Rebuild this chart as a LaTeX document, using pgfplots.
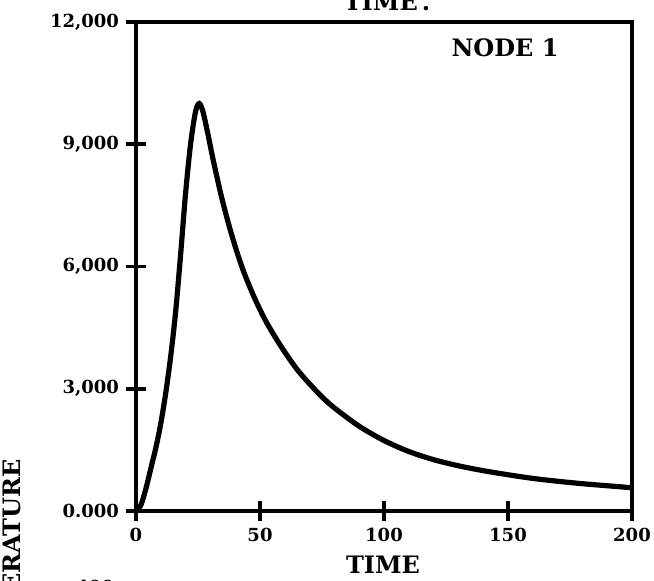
\documentclass[border=0pt]{standalone}
\usepackage{fontspec}
\setmainfont{DejaVu Serif}
\usepackage{pgfplots}
\pgfplotsset{compat=1.18}

\begin{document}
\begin{tikzpicture}
% page frame in pixel-like units (0.5pt per pixel, origin top left)
\useasboundingbox (0,0) rectangle (327pt,-290pt);

\begin{axis}[
  scale only axis,
  width=248pt, height=244.5pt,
  at={(68pt,-255.5pt)}, anchor=south west,
  xmin=0, xmax=200, ymin=0, ymax=12000,
  xtick={0,50,100,150,200},
  ytick={0,3000,6000,9000,12000},
  yticklabels={{0.000},{3,000},{6,000},{9,000},{12,000}},
  scaled y ticks=false,
  /pgf/number format/assume math mode=true,
  tick pos=left,
  tick align=center,
  major tick length=10pt,
  axis line style={line width=2pt},
  tick style={line width=1.8pt, black},
  ticklabel style={font=\bfseries\small},
  clip=false,
]
\addplot[line width=2.6pt, smooth, tension=0.5] coordinates {
  (0,0) (2,150) (4,550) (6,1050) (8,1550) (10,2150) (12,2900) (14,3800)
  (16,4900) (18,6300) (20,7800) (22,9000) (24,9800) (25.5,10000)
  (27,9800) (29,9250) (31,8650) (33,8100) (35,7580) (38,6900) (41,6300)
  (44,5780) (48,5200) (52,4700) (56,4280) (60,3900) (65,3470) (70,3120)
  (75,2800) (80,2530) (90,2080) (100,1730) (110,1460) (120,1260)
  (130,1110) (140,990) (150,890) (160,800) (170,730) (180,670)
  (190,620) (200,570)
};
\end{axis}

\begin{scope}[x=0.5pt, y=-0.5pt, font=\bfseries]
  \node[font=\bfseries\large] at (505,48) {NODE 1};
  \node[font=\bfseries\large] at (383,565) {TIME};
  \node[font=\bfseries\large, anchor=base] at (387,10) {TIME\,.};
  \node[font=\bfseries\large, rotate=90, anchor=south east] at (28,452) {TEMPERATURE};
  \node[font=\bfseries\small, anchor=north] at (95,573) {400};
\end{scope}
\end{tikzpicture}
\end{document}
